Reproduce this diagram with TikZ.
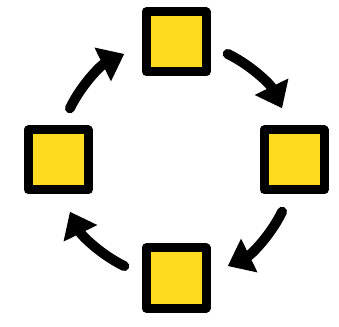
\documentclass[tikz,border=0pt]{standalone}
\usetikzlibrary{arrows.meta,calc}
\definecolor{Tile}{RGB}{254,219,30}
\definecolor{Ink}{RGB}{0,0,0}

\begin{document}
\begin{tikzpicture}[x=1pt,y=1pt,
    tile/.style={draw=Ink,fill=Tile,line width=9pt,line join=round,
      minimum size=60pt,inner sep=0pt},
    flow/.style={draw=Ink,line width=10pt,line cap=round,
      -{Triangle[length=24pt,width=36pt]}}]
  \useasboundingbox (0,0) rectangle (339,326);
  \coordinate (hub) at (176,166);
  \foreach \name/\ang in {top/90,right/0,bottom/270,left/180}
  {
    \node[tile] (\name) at ($(hub)+(\ang:118)$) {};
    \coordinate (\name-out) at ($(hub)+(\ang-26:118)$);
  }
  \foreach \name/\ang in {top/90,right/0,bottom/270,left/180}
    \draw[flow] (\name-out) arc[start angle=\ang-26,end angle=\ang-64,radius=118];
\end{tikzpicture}
\end{document}
